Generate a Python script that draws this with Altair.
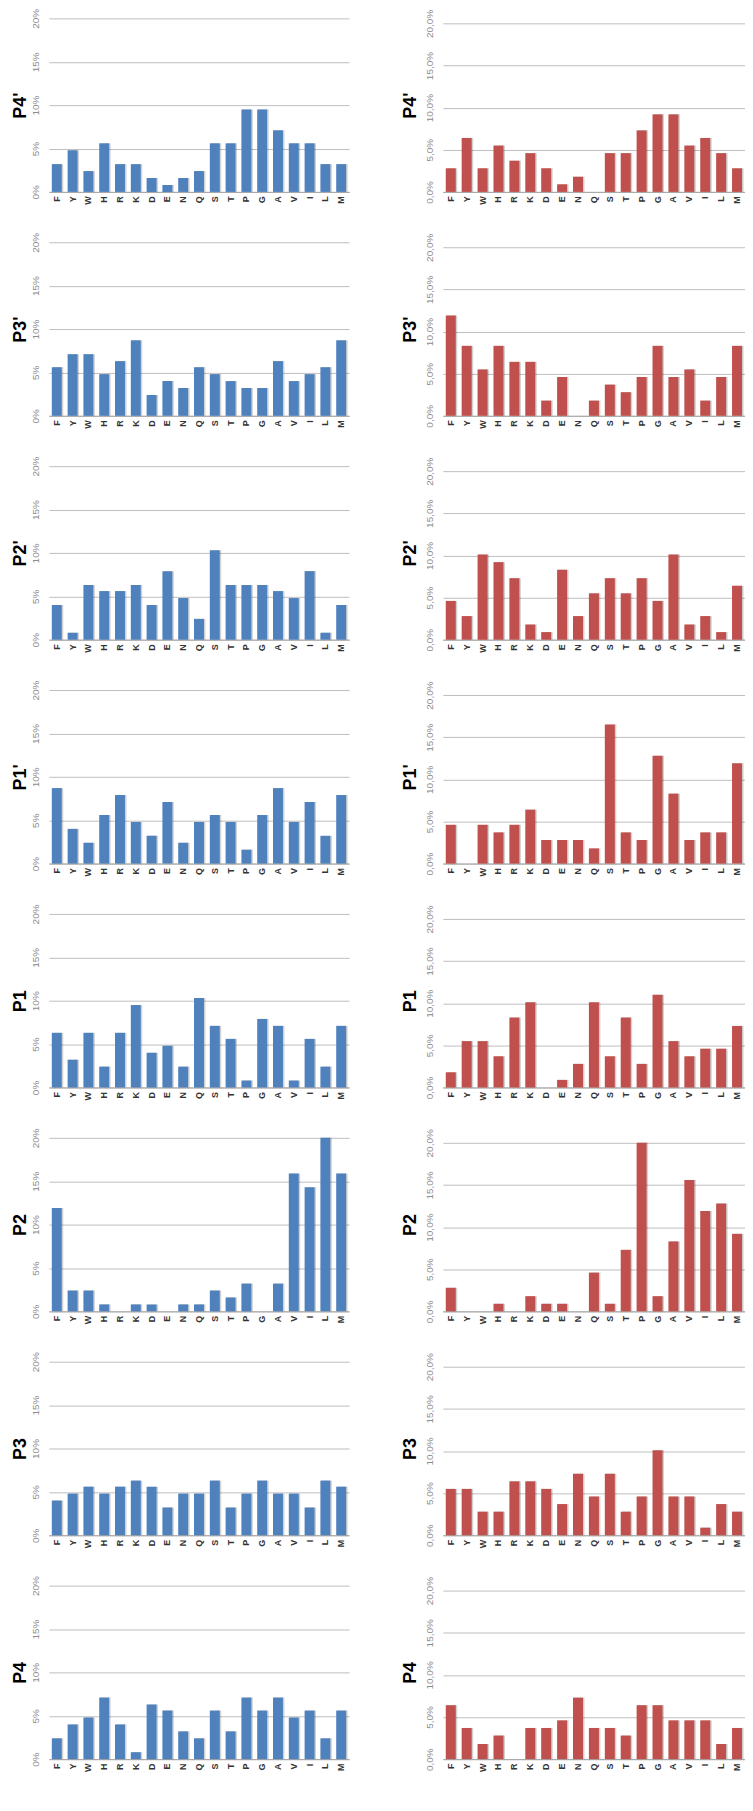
import altair as alt
import pandas as pd

residues = ["F", "Y", "W", "H", "R", "K", "D", "E", "N", "Q",
            "S", "T", "P", "G", "A", "V", "I", "L", "M"]
positions = ["P4'", "P3'", "P2'", "P1'", "P1", "P2", "P3", "P4"]

# Left column (blue), percent values
blue_P4p = [3.2, 4.8, 2.4, 5.6, 3.2, 3.2, 1.6, 0.8, 1.6, 2.4, 5.6, 5.6, 9.5, 9.5, 7.1, 5.6, 5.6, 3.2, 3.2]
blue_P3p = [5.6, 7.1, 7.1, 4.8, 6.3, 8.7, 2.4, 4.0, 3.2, 5.6, 4.8, 4.0, 3.2, 3.2, 6.3, 4.0, 4.8, 5.6, 8.7]
blue_P2p = [4.0, 0.8, 6.3, 5.6, 5.6, 6.3, 4.0, 7.9, 4.8, 2.4, 10.3, 6.3, 6.3, 6.3, 5.6, 4.8, 7.9, 0.8, 4.0]
blue_P1p = [8.7, 4.0, 2.4, 5.6, 7.9, 4.8, 3.2, 7.1, 2.4, 4.8, 5.6, 4.8, 1.6, 5.6, 8.7, 4.8, 7.1, 3.2, 7.9]
blue_P1 = [6.3, 3.2, 6.3, 2.4, 6.3, 9.5, 4.0, 4.8, 2.4, 10.3, 7.1, 5.6, 0.8, 7.9, 7.1, 0.8, 5.6, 2.4, 7.1]
blue_P2 = [11.9, 2.4, 2.4, 0.8, 0.0, 0.8, 0.8, 0.0, 0.8, 0.8, 2.4, 1.6, 3.2, 0.0, 3.2, 15.9, 14.3, 20.0, 15.9]
blue_P3 = [4.0, 4.8, 5.6, 4.8, 5.6, 6.3, 5.6, 3.2, 4.8, 4.8, 6.3, 3.2, 4.8, 6.3, 4.8, 4.8, 3.2, 6.3, 5.6]
blue_P4 = [2.4, 4.0, 4.8, 7.1, 4.0, 0.8, 6.3, 5.6, 3.2, 2.4, 5.6, 3.2, 7.1, 5.6, 7.1, 4.8, 5.6, 2.4, 5.6]

# Right column (red), percent values
red_P4p = [2.8, 6.4, 2.8, 5.5, 3.7, 4.6, 2.8, 0.9, 1.8, 0.0, 4.6, 4.6, 7.3, 9.2, 9.2, 5.5, 6.4, 4.6, 2.8]
red_P3p = [11.9, 8.3, 5.5, 8.3, 6.4, 6.4, 1.8, 4.6, 0.0, 1.8, 3.7, 2.8, 4.6, 8.3, 4.6, 5.5, 1.8, 4.6, 8.3]
red_P2p = [4.6, 2.8, 10.1, 9.2, 7.3, 1.8, 0.9, 8.3, 2.8, 5.5, 7.3, 5.5, 7.3, 4.6, 10.1, 1.8, 2.8, 0.9, 6.4]
red_P1p = [4.6, 0.0, 4.6, 3.7, 4.6, 6.4, 2.8, 2.8, 2.8, 1.8, 16.5, 3.7, 2.8, 12.8, 8.3, 2.8, 3.7, 3.7, 11.9]
red_P1 = [1.8, 5.5, 5.5, 3.7, 8.3, 10.1, 0.0, 0.9, 2.8, 10.1, 3.7, 8.3, 2.8, 11.0, 5.5, 3.7, 4.6, 4.6, 7.3]
red_P2 = [2.8, 0.0, 0.0, 0.9, 0.0, 1.8, 0.9, 0.9, 0.0, 4.6, 0.9, 7.3, 20.0, 1.8, 8.3, 15.6, 11.9, 12.8, 9.2]
red_P3 = [5.5, 5.5, 2.8, 2.8, 6.4, 6.4, 5.5, 3.7, 7.3, 4.6, 7.3, 2.8, 4.6, 10.1, 4.6, 4.6, 0.9, 3.7, 2.8]
red_P4 = [6.4, 3.7, 1.8, 2.8, 0.0, 3.7, 3.7, 4.6, 7.3, 3.7, 3.7, 2.8, 6.4, 6.4, 4.6, 4.6, 4.6, 1.8, 3.7]

blue_series = [blue_P4p, blue_P3p, blue_P2p, blue_P1p, blue_P1, blue_P2, blue_P3, blue_P4]
red_series = [red_P4p, red_P3p, red_P2p, red_P1p, red_P1, red_P2, red_P3, red_P4]
y_ticks = [0, 5, 10, 15, 20]

BLUE = "#4F81BD"
RED = "#C0504D"
PLOT_H = 174


def panel(values, pos, side):
    df = pd.DataFrame({"res": residues, "val": values})
    if side == "left":
        top = 20
        label_expr = "datum.value + '%'"
        color = BLUE
        width = 301
        lab_pad, title_pad = 8, 1
    else:
        top = 20 * 174 / 169
        label_expr = "replace(format(datum.value, '.1f'), '.', ',') + '%'"
        color = RED
        width = 303
        lab_pad, title_pad = 8, 5
    x = alt.X("res:N", sort=residues,
              scale=alt.Scale(paddingInner=0.37, paddingOuter=0.185),
              axis=alt.Axis(title=None, labelAngle=-90, labelFontWeight="bold",
                            labelFontSize=9, labelColor="#333333", labelFont="Liberation Sans",
                            ticks=False, labelPadding=4, domainColor="#A6A6A6", grid=False))
    y = alt.Y("val:Q", scale=alt.Scale(domain=[0, top], nice=False, zero=True),
              axis=alt.Axis(title=pos, values=y_ticks, labelExpr=label_expr,
                            labelAngle=-90, labelFontSize=10, labelColor="#8C8C8C",
                            labelFont="Liberation Sans",
                            ticks=False, domain=False, grid=True, gridColor="#BFBFBF",
                            labelPadding=lab_pad, titlePadding=title_pad,
                            titleFontSize=18, titleFontWeight="bold", titleColor="#000000",
                            titleFont="Liberation Sans"))
    shadow = alt.Chart(df).mark_bar(color="#000000", opacity=0.18, xOffset=1.5).encode(x=x, y=y)
    bars = alt.Chart(df).mark_bar(color=color).encode(x=x, y=y)
    return alt.layer(shadow, bars).properties(width=width, height=PLOT_H)


rows = []
for i, pos in enumerate(positions):
    rows.append(alt.hconcat(panel(blue_series[i], pos, "left"),
                            panel(red_series[i], pos, "right"), spacing=53))

chart = alt.vconcat(*rows, spacing=26.5).properties(
    padding={"left": 4, "top": -3, "right": 0, "bottom": 0}
).configure_view(stroke=None)

chart.save("out.html", embed_options={"renderer": "svg", "actions": False})
